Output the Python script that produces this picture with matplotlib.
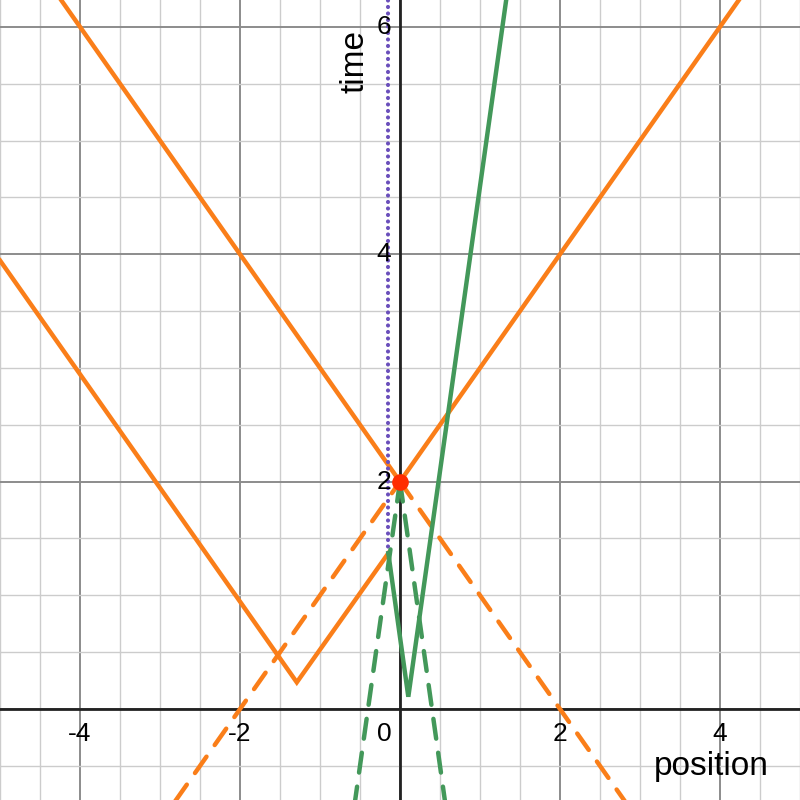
import numpy as np
import matplotlib.pyplot as plt

plt.rcParams['font.family'] = ['Liberation Sans', 'DejaVu Sans']

# Data (position, time)
event = (0.0, 2.0)

# orange light rays through the event: solid = future / left-past, dashed = continuation
light_solid = [([-5.0, 0.0], [7.0, 2.0]), ([0.0, 5.0], [2.0, 7.0])]
light_dashed = [([0.0, 3.0], [2.0, -1.0]), ([-3.0, 0.0], [-1.0, 2.0])]

# orange reflected ray (V shape)
v_x = [-5.0, -1.29, -0.146]
v_t = [3.945, 0.235, 1.37]

# green worldline
green_x = [-0.146, 0.104, 1.40]
green_t = [1.37, 0.108, 6.6]

# green dashed lines through the event
green_dash = [([0.0, -0.6], [2.0, -1.0]), ([0.0, 0.6], [2.0, -1.0])]

# purple dotted line
purple_x = [-0.146, -0.146]
purple_t = [1.37, 6.4]

xticks = [-4, -2, 2, 4]
yticks = [2, 4, 6]

orange = '#fa7e19'
green = '#43985a'
purple = '#6a4fbb'

fig = plt.figure(figsize=(8, 8), dpi=100)
ax = fig.add_axes([0, 0, 1, 1])
ax.set_xlim(-5, 5)
ax.set_ylim(-0.8, 6.236)

# grid
for x in np.arange(-5, 5.01, 0.5):
    major = abs(x % 2) < 1e-9
    ax.axvline(x, color='#8c8c8c' if major else '#cccccc', lw=1.4 if major else 1.0, zorder=0)
for y in np.arange(-0.5, 6.3, 0.5):
    major = abs(y % 2) < 1e-9
    ax.axhline(y, color='#8c8c8c' if major else '#cccccc', lw=1.4 if major else 1.0, zorder=0)
ax.axvline(0, color='#222222', lw=2, zorder=1)
ax.axhline(0, color='#222222', lw=2, zorder=1)

for xs, ts in light_solid:
    ax.plot(xs, ts, color=orange, lw=3.2, solid_capstyle='round', zorder=3)
for xs, ts in light_dashed:
    ax.plot(xs, ts, color=orange, lw=3.2, dashes=(4.5, 3.2), dash_capstyle='round', zorder=3)
ax.plot(v_x, v_t, color=orange, lw=3.2, solid_joinstyle='miter', zorder=3)

ax.plot(green_x, green_t, color=green, lw=3.2, solid_joinstyle='miter', zorder=4)
for xs, ts in green_dash:
    ax.plot(xs, ts, color=green, lw=3.2, dashes=(4.5, 3.2), dash_capstyle='round', zorder=4)

ax.plot(purple_x, purple_t, color=purple, lw=3.0, linestyle=(0, (0.01, 1.55)),
        dash_capstyle='round', zorder=3)

ax.plot(*event, 'o', color='#ff2d00', ms=12, mec='none', zorder=6)

# tick labels
for x in xticks:
    ax.text(x, -0.114, '%d' % x, ha='center', va='top', fontsize=19, zorder=5)
ax.text(-0.11, -0.114, '0', ha='right', va='top', fontsize=19, zorder=5)
for y in yticks:
    ax.text(-0.11, y, '%d' % y, ha='right', va='center', fontsize=19, zorder=5)

ax.text(4.61, -0.58, 'position', ha='right', va='baseline', fontsize=24, zorder=5)
ax.text(-0.46, 5.42, 'time', ha='left', va='baseline', rotation=90,
        rotation_mode='anchor', fontsize=24, zorder=5)

ax.set_xticks([])
ax.set_yticks([])
for s in ax.spines.values():
    s.set_visible(False)

fig.savefig('out.png', dpi=100)
